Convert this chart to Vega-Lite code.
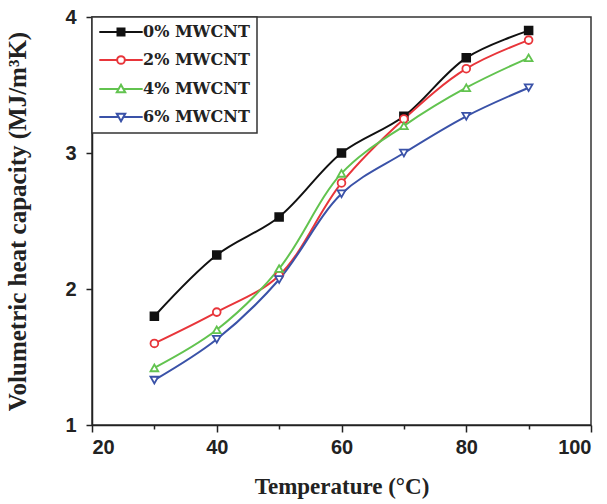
{
  "$schema": "https://vega.github.io/schema/vega-lite/v6.json",
  "autosize": "none",
  "width": 499,
  "height": 408,
  "padding": {"left": 92, "top": 17, "right": 16, "bottom": 79},
  "background": "white",
  "config": {
    "view": {"stroke": "#333", "strokeWidth": 1.5},
    "axis": {
      "domainColor": "#222", "domainWidth": 1.5, "tickColor": "#222", "tickWidth": 1.5,
      "labelFont": "Liberation Sans", "labelFontWeight": "bold", "labelFontSize": 20, "labelColor": "#222",
      "titleFont": "Liberation Serif", "titleFontWeight": "bold", "titleFontSize": 23, "titleColor": "#222",
      "grid": false
    }
  },
  "data": {"values": [
    {"T": 30, "C": 1.80, "s": "0% MWCNT"}, {"T": 40, "C": 2.25, "s": "0% MWCNT"}, {"T": 50, "C": 2.53, "s": "0% MWCNT"}, {"T": 60, "C": 3.00, "s": "0% MWCNT"}, {"T": 70, "C": 3.27, "s": "0% MWCNT"}, {"T": 80, "C": 3.70, "s": "0% MWCNT"}, {"T": 90, "C": 3.90, "s": "0% MWCNT"},
    {"T": 30, "C": 1.60, "s": "2% MWCNT"}, {"T": 40, "C": 1.83, "s": "2% MWCNT"}, {"T": 50, "C": 2.10, "s": "2% MWCNT"}, {"T": 60, "C": 2.78, "s": "2% MWCNT"}, {"T": 70, "C": 3.25, "s": "2% MWCNT"}, {"T": 80, "C": 3.62, "s": "2% MWCNT"}, {"T": 90, "C": 3.83, "s": "2% MWCNT"},
    {"T": 30, "C": 1.42, "s": "4% MWCNT"}, {"T": 40, "C": 1.70, "s": "4% MWCNT"}, {"T": 50, "C": 2.15, "s": "4% MWCNT"}, {"T": 60, "C": 2.85, "s": "4% MWCNT"}, {"T": 70, "C": 3.20, "s": "4% MWCNT"}, {"T": 80, "C": 3.48, "s": "4% MWCNT"}, {"T": 90, "C": 3.70, "s": "4% MWCNT"},
    {"T": 30, "C": 1.33, "s": "6% MWCNT"}, {"T": 40, "C": 1.63, "s": "6% MWCNT"}, {"T": 50, "C": 2.07, "s": "6% MWCNT"}, {"T": 60, "C": 2.70, "s": "6% MWCNT"}, {"T": 70, "C": 3.00, "s": "6% MWCNT"}, {"T": 80, "C": 3.27, "s": "6% MWCNT"}, {"T": 90, "C": 3.48, "s": "6% MWCNT"}
  ]},
  "encoding": {
    "x": {"field": "T", "type": "quantitative", "scale": {"domain": [20, 100], "nice": false},
      "axis": {"title": "Temperature (°C)", "values": [20, 30, 40, 50, 60, 70, 80, 90, 100],
        "labelExpr": "datum.value % 20 == 0 ? datum.label : ''",
        "tickSize": {"condition": {"test": "datum.value % 20 == 0", "value": 7}, "value": 4},
        "labelPadding": 5, "titlePadding": 18}},
    "y": {"field": "C", "type": "quantitative", "scale": {"domain": [1, 4], "nice": false},
      "axis": {"title": "Volumetric heat capacity (MJ/m³K)", "values": [1, 1.5, 2, 2.5, 3, 3.5, 4],
        "format": "d", "titleFontSize": 25,
        "labelExpr": "datum.value % 1 == 0 ? datum.label : ''",
        "tickSize": {"condition": {"test": "datum.value % 1 == 0", "value": 6}, "value": 4},
        "labelPadding": 10, "titlePadding": 34}},
    "stroke": {"field": "s", "type": "nominal", "title": null,
      "scale": {"domain": ["0% MWCNT", "2% MWCNT", "4% MWCNT", "6% MWCNT"], "range": ["#111111", "#e8353a", "#62c34f", "#3a52a8"]},
      "legend": {"orient": "top-left", "offset": 0, "strokeColor": "#333", "fillColor": "white",
        "padding": 7, "rowPadding": 12, "labelFont": "DejaVu Serif", "labelFontWeight": "bold", "labelFontSize": 16,
        "labelColor": "#222", "symbolSize": 196, "symbolStrokeWidth": 2, "symbolOffset": 14, "labelOffset": 14,
        "encode": {
          "legend": {"update": {"strokeWidth": {"value": 1.5}}},
          "symbols": {"update": {
            "shape": {"signal": "datum.value === '0% MWCNT' ? 'M-3.1,0H-0.5M0.5,0H3.1M-0.5,-0.5H0.5V0.5H-0.5Z' : datum.value === '2% MWCNT' ? 'M-3.1,0H-0.55M0.55,0H3.1M0.55,0A0.55,0.55 0 1,1 -0.55,0A0.55,0.55 0 1,1 0.55,0Z' : datum.value === '4% MWCNT' ? 'M-3.1,0H-0.45M0.45,0H3.1M0,-0.6L0.6,0.45H-0.6Z' : 'M-3.1,0H-0.45M0.45,0H3.1M0,0.6L0.6,-0.45H-0.6Z'"},
            "fill": {"signal": "datum.value === '0% MWCNT' ? '#111111' : 'white'"},
            "opacity": {"value": 1}
          }}
        }}}
  },
  "layer": [
    {"mark": {"type": "line", "interpolate": "catmull-rom", "strokeWidth": 2}},
    {"transform": [{"filter": "datum.s === '0% MWCNT'"}],
      "mark": {"type": "point", "shape": "square", "filled": true, "fill": "#111111", "size": 60, "strokeWidth": 1.8, "opacity": 1}},
    {"transform": [{"filter": "datum.s === '2% MWCNT'"}],
      "mark": {"type": "point", "shape": "circle", "filled": true, "fill": "white", "size": 60, "strokeWidth": 1.8, "opacity": 1}},
    {"transform": [{"filter": "datum.s === '4% MWCNT'"}],
      "mark": {"type": "point", "shape": "triangle-up", "filled": true, "fill": "white", "size": 60, "strokeWidth": 1.8, "opacity": 1}},
    {"transform": [{"filter": "datum.s === '6% MWCNT'"}],
      "mark": {"type": "point", "shape": "triangle-down", "filled": true, "fill": "white", "size": 60, "strokeWidth": 1.8, "opacity": 1}}
  ]
}
